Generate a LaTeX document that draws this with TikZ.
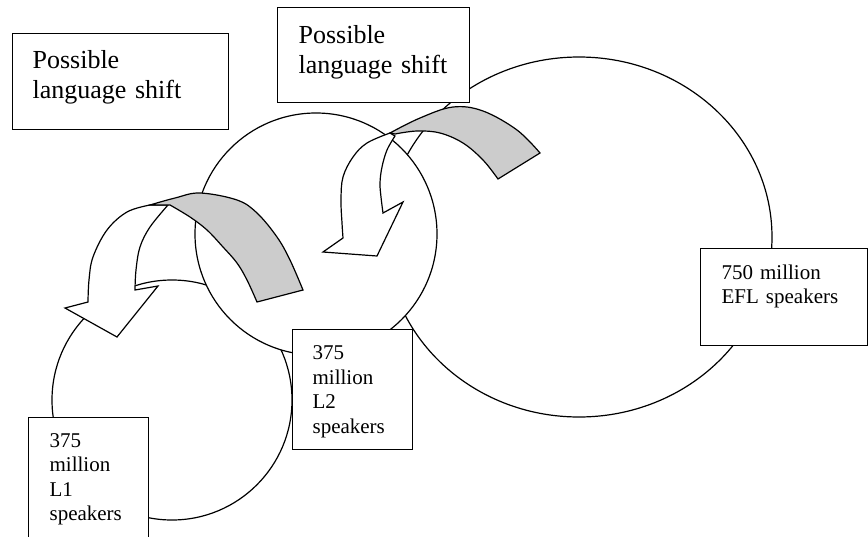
\documentclass[tikz,border=0pt]{standalone}
\usepackage{fontspec}
\setmainfont{Liberation Serif}
\usetikzlibrary{shapes.geometric}
\definecolor{backgrey}{HTML}{CCCCCC}
\begin{document}
\begin{tikzpicture}[x=1pt,y=-1pt,line width=1.2pt,
  ringst/.style={draw=black,fill=white,inner sep=0pt},
  frontface/.style={draw=black,fill=white,line join=miter},
  backface/.style={draw=black,fill=backgrey,line join=miter},
  boxst/.style={draw=black,fill=white,rectangle,inner sep=0pt,anchor=north west},
  bigtxt/.style={font=\fontsize{26}{30.5}\selectfont,text width=220pt,align=left,inner sep=0pt,anchor=base west},
  smalltxt/.style={font=\fontsize{21}{24.5}\selectfont,text width=160pt,align=left,inner sep=0pt,anchor=base west}]
\useasboundingbox (0,0) rectangle (868,536);
\clip (0,0) rectangle (868,536);

% circles
\node[ringst,ellipse,minimum width=386pt,minimum height=360pt] (efl) at (579,237) {};
\node[ringst,circle,minimum size=240pt] (lone) at (172,400) {};
\node[ringst,circle,minimum size=242pt] (ltwo) at (316,234) {};

% left curved arrow
\path[frontface] plot[smooth,tension=0.6] coordinates {(150,205) (127,212) (107,230) (93,257) (89,280) (88,302)}
  -- (65,308) -- (117,337) -- (158,286) -- (135,290)
  -- plot[smooth,tension=0.6] coordinates {(135,290) (136,270) (140,247) (150,227) (168,205)} -- cycle;
\path[backface] plot[smooth,tension=0.6] coordinates {(150,205) (175,198) (200,193) (237,200) (257,213) (277,237) (290,260) (303,290)}
  -- (257,302)
  -- plot[smooth,tension=0.6] coordinates {(257,302) (247,280) (237,263) (223,247) (207,230) (190,217) (170,205)} -- cycle;

% right curved arrow
\path[frontface] plot[smooth,tension=0.6] coordinates {(390,133) (367,143) (353,157) (343,177) (341,200) (342,223) (343,238)}
  -- (323,252) -- (377,256) -- (403,202) -- (383,213)
  -- plot[smooth,tension=0.6] coordinates {(383,213) (381,197) (380,183) (382,167) (387,150) (395,136)} -- cycle;
\path[backface] plot[smooth,tension=0.6] coordinates {(390,133) (420,118) (453,107) (483,111) (517,130) (540,153)}
  -- (498,179)
  -- plot[smooth,tension=0.6] coordinates {(498,179) (483,160) (463,143) (440,133) (417,131) (395,134)} -- cycle;

% boxes
\node[boxst,minimum width=216pt,minimum height=96pt] (shiftA) at (12,33) {};
\node[boxst,minimum width=192pt,minimum height=95pt] (shiftB) at (277,7) {};
\node[boxst,minimum width=166.5pt,minimum height=97pt] (eflbox) at (700,248) {};
\node[boxst,minimum width=120pt,minimum height=120pt] (ltwobox) at (292,329) {};
\node[boxst,minimum width=120pt,minimum height=143pt] (lonebox) at (28,417) {};

% texts
\node[bigtxt] (tA) at (32,68) {Possible\\language shift};
\node[bigtxt] (tB) at (298,43) {Possible\\language shift};
\node[smalltxt] (tE) at (721,279) {750 million\\EFL speakers};
\node[smalltxt] (t2) at (312,359.5) {375\\million\\L2\\speakers};
\node[smalltxt] (t1) at (49,447) {375\\million\\L1\\speakers};
\end{tikzpicture}
\end{document}
